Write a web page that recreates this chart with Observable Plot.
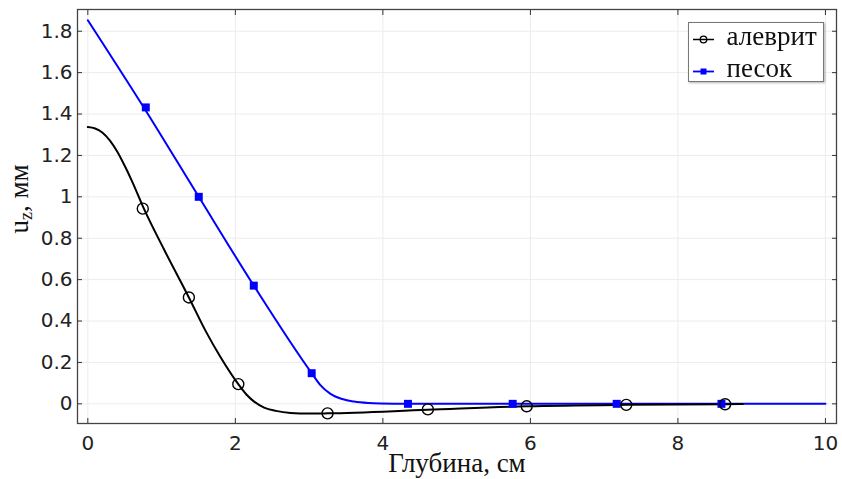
<!DOCTYPE html>
<html><head><meta charset="utf-8">
<script src="https://cdn.jsdelivr.net/npm/d3@7"></script>
<script src="https://cdn.jsdelivr.net/npm/@observablehq/plot@0.6"></script>
<style>
body{margin:0;background:#fff;}
#wrap{position:relative;width:842px;height:479px;overflow:hidden;}
#legend{position:absolute;left:688px;top:22px;}
#ytitle{position:absolute;left:20px;top:199px;transform:translate(-50%,-50%) rotate(-90deg);white-space:nowrap;font-family:"Liberation Serif";font-size:27px;color:#111;line-height:1;}
#ytitle sub{font-size:18px;vertical-align:-4px;}
</style></head>
<body><div id="wrap"></div>
<script>
// алеврит (black) curve
const blackX = [0, 0.1, 0.2, 0.3, 0.4, 0.5, 0.6, 0.76, 1.03, 1.37, 1.6, 1.8, 2.04, 2.15, 2.25, 2.39, 2.55, 2.75, 3.0, 3.25, 4.6, 5.95, 7.3, 8.64, 8.88];
const blackY = [1.337, 1.33, 1.31, 1.272, 1.218, 1.15, 1.075, 0.943, 0.748, 0.514, 0.35, 0.225, 0.095, 0.045, 0.012, -0.018, -0.034, -0.044, -0.047, -0.046, -0.029, -0.012, -0.005, -0.002, -0.001];
const blackMarkX = [0.745, 1.37, 2.04, 3.25, 4.61, 5.95, 7.3, 8.64];
const blackMarkY = [0.943, 0.514, 0.095, -0.046, -0.027, -0.012, -0.005, -0.002];
// песок (blue) curve
const blueX = [0, 0.763, 1.504, 2.25, 3.035, 3.15, 3.29, 3.45, 3.61, 3.8, 3.97, 4.34, 5.76, 7.17, 8.59, 10];
const blueY = [1.853, 1.429, 1.0, 0.571, 0.148, 0.092, 0.048, 0.023, 0.011, 0.004, 0.0015, 0, 0, 0, 0, 0];
const blueMarkX = [0.786, 1.504, 2.25, 3.035, 4.34, 5.76, 7.17, 8.59];
const blueMarkY = [1.432, 1.0, 0.571, 0.148, 0, 0, 0, 0];
const xTicks = [0, 2, 4, 6, 8, 10];
const yTicks = [0, 0.2, 0.4, 0.6, 0.8, 1, 1.2, 1.4, 1.6, 1.8];
const seriesNames = ["алеврит", "песок"];
const xTitle = "Глубина, см";

const zip = (xs, ys) => xs.map((x, i) => ({x, y: ys[i]}));
const fmt = d3.format("~g");
const blank = () => "";

const chart = Plot.plot({
  width: 842, height: 479,
  marginLeft: 77, marginRight: 6, marginTop: 9, marginBottom: 56,
  x: {domain: [-0.14, 10.15]},
  y: {domain: [-0.095, 1.905]},
  style: {fontFamily: "DejaVu Sans", fontSize: "20px", color: "#222", background: "white"},
  marks: [
    Plot.gridX(xTicks, {stroke: "#ececec", strokeOpacity: 1}),
    Plot.gridY(yTicks, {stroke: "#ececec", strokeOpacity: 1}),
    Plot.line(zip(blueX, blueY), {x: "x", y: "y", stroke: "#0000ff", strokeWidth: 2, curve: "monotone-x"}),
    Plot.line(zip(blackX, blackY), {x: "x", y: "y", stroke: "#000", strokeWidth: 2, curve: "monotone-x"}),
    Plot.dot(zip(blueMarkX, blueMarkY), {x: "x", y: "y", symbol: "square", r: 4.5, fill: "#0000ff", stroke: "none"}),
    Plot.dot(zip(blackMarkX, blackMarkY), {x: "x", y: "y", symbol: "circle", r: 5.5, fill: "none", stroke: "#000", strokeWidth: 1.4}),
    Plot.frame({stroke: "#444", strokeWidth: 1.3}),
    Plot.axisX(xTicks, {anchor: "bottom", tickSize: -5, tickPadding: 17, label: null, tickFormat: fmt, stroke: "#333"}),
    Plot.axisX(xTicks, {anchor: "top", tickSize: -5, tickFormat: blank, label: null, stroke: "#333"}),
    Plot.axisY(yTicks, {anchor: "left", tickSize: -5, tickPadding: 10, label: null, tickFormat: fmt, stroke: "#333"}),
    Plot.axisY(yTicks, {anchor: "right", tickSize: -5, tickFormat: blank, label: null, stroke: "#333"}),
    Plot.text([xTitle], {frameAnchor: "bottom", dy: 48, lineAnchor: "bottom", fontFamily: "Liberation Serif", fontSize: 27, fill: "#111"})
  ]
});
const wrap = document.getElementById("wrap");
wrap.appendChild(chart);

// y title
const yt = document.createElement("div");
yt.id = "ytitle";
yt.innerHTML = "u<sub>z</sub>, мм";
wrap.appendChild(yt);

// legend
const lg = document.createElement("div");
lg.id = "legend";
lg.innerHTML = `<svg width="137" height="61" style="filter:drop-shadow(1px 1px 1px rgba(0,0,0,0.3))">
  <rect x="0.5" y="0.5" width="135" height="59" fill="#fff" stroke="#777"/>
  <line x1="5" x2="26" y1="17.5" y2="17.5" stroke="#000" stroke-width="1.5"/>
  <circle cx="15.5" cy="17.5" r="3.3" fill="none" stroke="#000" stroke-width="1.3"/>
  <text x="38.5" y="23" font-family="Liberation Serif" font-size="27" fill="#111">${seriesNames[0]}</text>
  <line x1="5" x2="26" y1="49.5" y2="49.5" stroke="#0000ff" stroke-width="1.8"/>
  <rect x="12.5" y="46.5" width="6" height="6" fill="#0000ff"/>
  <text x="38.5" y="55" font-family="Liberation Serif" font-size="27" fill="#111">${seriesNames[1]}</text>
</svg>`;
wrap.appendChild(lg);
</script>
</body></html>
